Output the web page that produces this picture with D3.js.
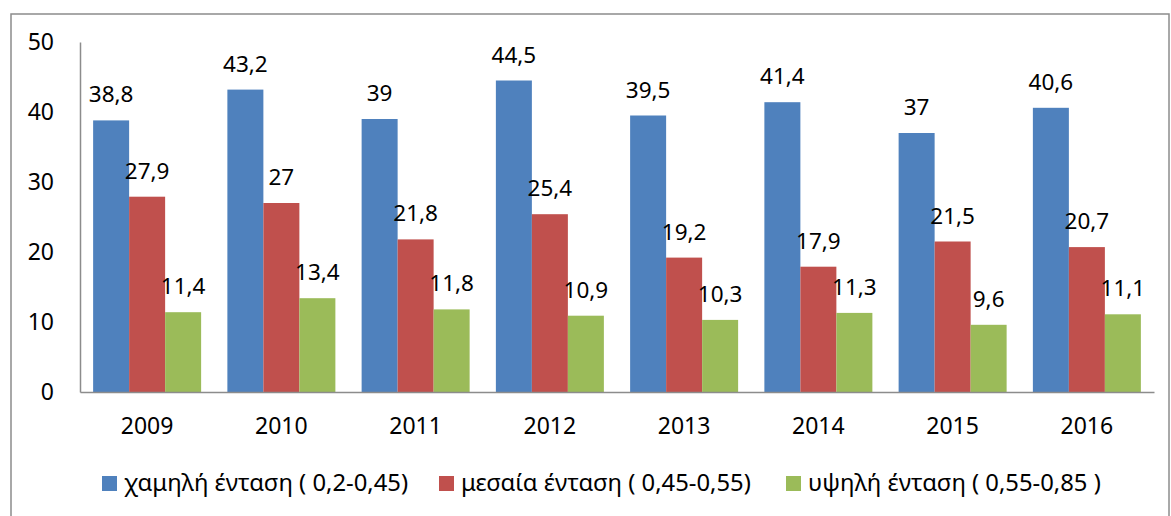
<!DOCTYPE html>
<html>
<head>
<meta charset="utf-8">
<script src="https://cdn.jsdelivr.net/npm/d3@7"></script>
<style>
  html, body { margin: 0; padding: 0; background: #fff; }
  svg { display: block; font-family: "Noto Sans", "Open Sans", sans-serif; }
</style>
</head>
<body>
<svg id="chart" width="1171" height="516"></svg>
<script>
// Years on the category axis
const years = ["2009", "2010", "2011", "2012", "2013", "2014", "2015", "2016"];

// Series values (per cent)
const lowIntensity = [38.8, 43.2, 39, 44.5, 39.5, 41.4, 37, 40.6];
const midIntensity = [27.9, 27, 21.8, 25.4, 19.2, 17.9, 21.5, 20.7];
const highIntensity = [11.4, 13.4, 11.8, 10.9, 10.3, 11.3, 9.6, 11.1];

// Series names shown in the legend
const seriesNames = [
  "χαμηλή ένταση ( 0,2-0,45)",
  "μεσαία ένταση ( 0,45-0,55)",
  "υψηλή ένταση ( 0,55-0,85 )"
];

// Value axis ticks
const yTicks = [0, 10, 20, 30, 40, 50];

const colors = ["#4F81BD", "#C0504D", "#9BBB59"];
const seriesValues = [lowIntensity, midIntensity, highIntensity];

const svg = d3.select("#chart");

// Outer frame
svg.append("rect")
  .attr("x", 11).attr("y", 14)
  .attr("width", 1158).attr("height", 520)
  .attr("fill", "none")
  .attr("stroke", "#8c8c8c")
  .attr("stroke-width", 1.5);

const plot = { left: 80, right: 1154, top: 42, bottom: 392 };

const x = d3.scaleBand()
  .domain(years)
  .range([plot.left, plot.right])
  .paddingInner(0)
  .paddingOuter(0);

const barW = 36;
const y = d3.scaleLinear().domain([0, 50]).range([plot.bottom, plot.top]);

const fmt = v => String(v).replace(".", ",");

// Bars and value labels
seriesValues.forEach((vals, s) => {
  const g = svg.append("g");
  const data = years.map((yr, i) => ({ yr, v: vals[i] }));
  const bx = d => x(d.yr) + x.bandwidth() / 2 - 1.5 * barW + s * barW;

  g.selectAll("rect")
    .data(data)
    .join("rect")
    .attr("x", bx)
    .attr("y", d => y(d.v))
    .attr("width", barW)
    .attr("height", d => y(0) - y(d.v))
    .attr("fill", colors[s]);

  g.selectAll("text")
    .data(data)
    .join("text")
    .attr("x", d => bx(d) + barW / 2)
    .attr("y", d => y(d.v) - 18)
    .attr("text-anchor", "middle")
    .attr("font-size", 22.5)
    .attr("fill", "#000")
    .text(d => fmt(d.v));
});

// Y axis
const yAxis = d3.axisLeft(y).tickValues(yTicks).tickSize(0).tickPadding(26);
const yg = svg.append("g").attr("transform", `translate(${plot.left},0)`).call(yAxis);
yg.select(".domain").attr("stroke", "#8c8c8c").attr("stroke-width", 1.5);
yg.selectAll("text").attr("font-size", 23).attr("fill", "#000")
  .attr("font-family", "'Noto Sans', sans-serif");

// X axis
const xAxis = d3.axisBottom(x).tickSize(0).tickPadding(26);
const xg = svg.append("g").attr("transform", `translate(0,${plot.bottom})`).call(xAxis);
xg.select(".domain").attr("stroke", "#8c8c8c").attr("stroke-width", 1.5);
xg.selectAll("text").attr("font-size", 23).attr("fill", "#000")
  .attr("font-family", "'Noto Sans', sans-serif");

// Legend
const legendX = [102, 439, 786];
const legend = svg.append("g");
seriesNames.forEach((name, i) => {
  legend.append("rect")
    .attr("x", legendX[i]).attr("y", 476)
    .attr("width", 15).attr("height", 15)
    .attr("fill", colors[i]);
  legend.append("text")
    .attr("x", legendX[i] + 22).attr("y", 491)
    .attr("font-size", 23.8)
    .attr("fill", "#000")
    .text(name);
});
</script>
</body>
</html>
